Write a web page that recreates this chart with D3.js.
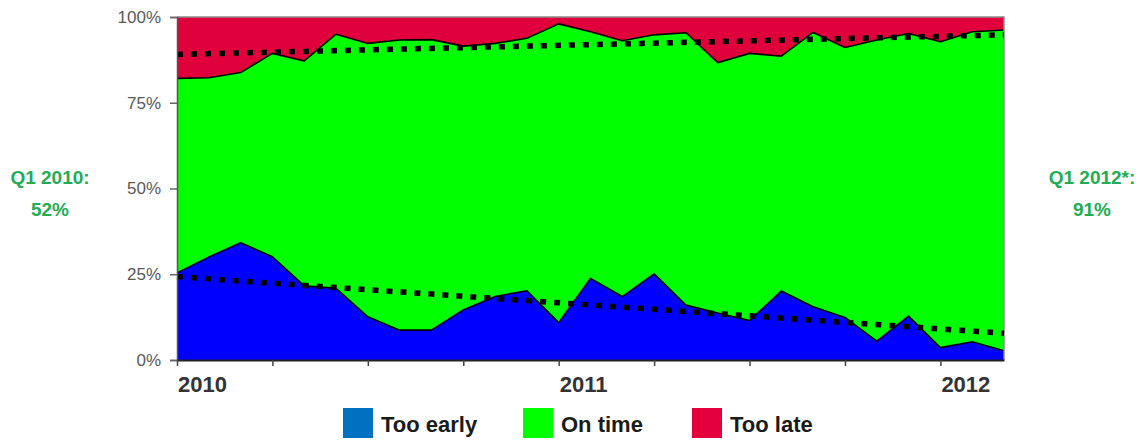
<!DOCTYPE html>
<html><head><meta charset="utf-8">
<script src="https://cdn.jsdelivr.net/npm/d3@7"></script>
<style>body{margin:0;background:#fff}svg{display:block}text{font-family:"Liberation Sans",Arial,sans-serif}</style>
</head><body><svg id="c" width="1142" height="441"></svg>
<script>
const months = ["2010-01","2010-02","2010-03","2010-04","2010-05","2010-06","2010-07","2010-08","2010-09","2010-10","2010-11","2010-12",
"2011-01","2011-02","2011-03","2011-04","2011-05","2011-06","2011-07","2011-08","2011-09","2011-10","2011-11","2011-12",
"2012-01","2012-02","2012-03"];
const tooEarly = [25.4,30.0,34.2,30.1,21.6,20.9,12.6,8.7,8.7,14.6,18.5,20.2,10.9,23.8,18.5,25.1,16.0,13.7,11.5,20.1,15.5,12.4,5.5,12.8,3.6,5.3,2.7];
const onTime   = [56.7,52.3,49.6,59.3,65.6,74.1,79.7,84.6,84.7,76.9,73.8,73.6,87.1,71.9,74.6,69.7,79.4,73.0,77.9,68.5,80.0,78.7,87.8,82.4,89.2,90.4,93.5];
const tooLate  = [17.9,17.7,16.2,10.6,12.8,5.0,7.7,6.7,6.6,8.5,7.7,6.2,2.0,4.3,6.9,5.2,4.6,13.3,10.6,11.4,4.5,8.9,6.7,4.8,7.2,4.3,3.8];
const trendEarly = [24.3, 7.8];       // start, end (%)
const trendOnTimeTop = [89.1, 94.8];  // cumulative early+on time, start, end (%)
const yTicks = [0,25,50,75,100];
const yTickLabels = ["0%","25%","50%","75%","100%"];
const yearLabels = [{i:0,label:"2010"},{i:12,label:"2011"},{i:24,label:"2012"}];
const seriesNames = ["Too early","On time","Too late"];
const areaColors = ["#0000ff","#00ff00","#e0003c"];
const legendColors = ["#0070c0","#00ff00","#e4003c"];

const svg = d3.select("#c");
const L=177, R=1004, T=17, B=360;
const x = d3.scaleLinear().domain([0, months.length-1]).range([L,R]);
const y = d3.scaleLinear().domain([0,100]).range([B,T]);

const table = months.map((m,i)=>({i, early:tooEarly[i], on:onTime[i], late:tooLate[i]}));
const stacked = d3.stack().keys(["early","on","late"])(table);

const area = d3.area().x(d=>x(d.data.i)).y0(d=>y(d[0])).y1(d=>y(Math.min(100,d[1])));
svg.append("g").selectAll("path").data(stacked).join("path")
  .attr("d", area).attr("fill",(d,k)=>areaColors[k]);
// last series top always fills to 100
// boundary outlines
const line = d3.line().x(d=>x(d.data.i)).y(d=>y(d[1]));
svg.append("g").selectAll("path").data(stacked.slice(0,2)).join("path")
  .attr("d", line).attr("fill","none").attr("stroke","#000").attr("stroke-width",1.6).attr("stroke-linejoin","round");

// frame
svg.append("path").attr("d",`M${L},${T}H${R}V${B}`).attr("fill","none").attr("stroke","#8a8a8a").attr("stroke-width",1.5);

// trend lines
const tl = d3.line().x(d=>x(d[0])).y(d=>y(d[1]));
[trendEarly, trendOnTimeTop].forEach(t=>{
  svg.append("path").attr("d", tl([[0,t[0]],[months.length-1,t[1]]]))
    .attr("fill","none").attr("stroke","#000").attr("stroke-width",5.5).attr("stroke-dasharray","6,8");
});

// y axis
const ya = svg.append("g").attr("transform",`translate(${L},0)`)
  .call(d3.axisLeft(y).tickValues(yTicks).tickFormat((d,k)=>yTickLabels[k]).tickSize(7).tickPadding(9));
ya.select(".domain").attr("stroke","#555").attr("stroke-width",1.5);
ya.selectAll(".tick line").attr("stroke","#666").attr("stroke-width",1.5);
ya.selectAll("text").attr("font-size",17).attr("fill","#595959").attr("font-family","Liberation Sans, Arial, sans-serif");

// x axis
const qTicks = d3.range(0, months.length, 3);
const xa = svg.append("g").attr("transform",`translate(0,${B})`)
  .call(d3.axisBottom(x).tickValues(qTicks).tickFormat("").tickSize(6).tickSizeOuter(0));
xa.select(".domain").attr("stroke","#222").attr("stroke-width",2);
xa.selectAll(".tick line").attr("stroke","#444").attr("stroke-width",1.5);
svg.append("g").selectAll("text").data(yearLabels).join("text")
  .attr("x",d=>x(d.i)+1).attr("y",392).attr("font-size",22).attr("font-weight","bold").attr("fill","#333")
  .text(d=>d.label);

// side annotations
const ann = [{x:50,lines:["Q1 2010:","52%"]},{x:1092,lines:["Q1 2012*:","91%"]}];
ann.forEach(a=>{
  a.lines.forEach((s,k)=>{
    svg.append("text").attr("x",a.x).attr("y",184+k*32).attr("text-anchor","middle")
      .attr("font-size",19).attr("font-weight","bold").attr("fill","#22ad52").text(s);
  });
});

// legend
const legX = [343,523,692];
const lg = svg.append("g").selectAll("g").data(seriesNames).join("g")
  .attr("transform",(d,k)=>`translate(${legX[k]},408)`);
lg.append("rect").attr("width",30).attr("height",30).attr("fill",(d,k)=>legendColors[k]);
lg.append("text").attr("x",38).attr("y",24).attr("font-size",22).attr("font-weight","bold").attr("fill","#1a1a1a").text(d=>d);
</script></body></html>
